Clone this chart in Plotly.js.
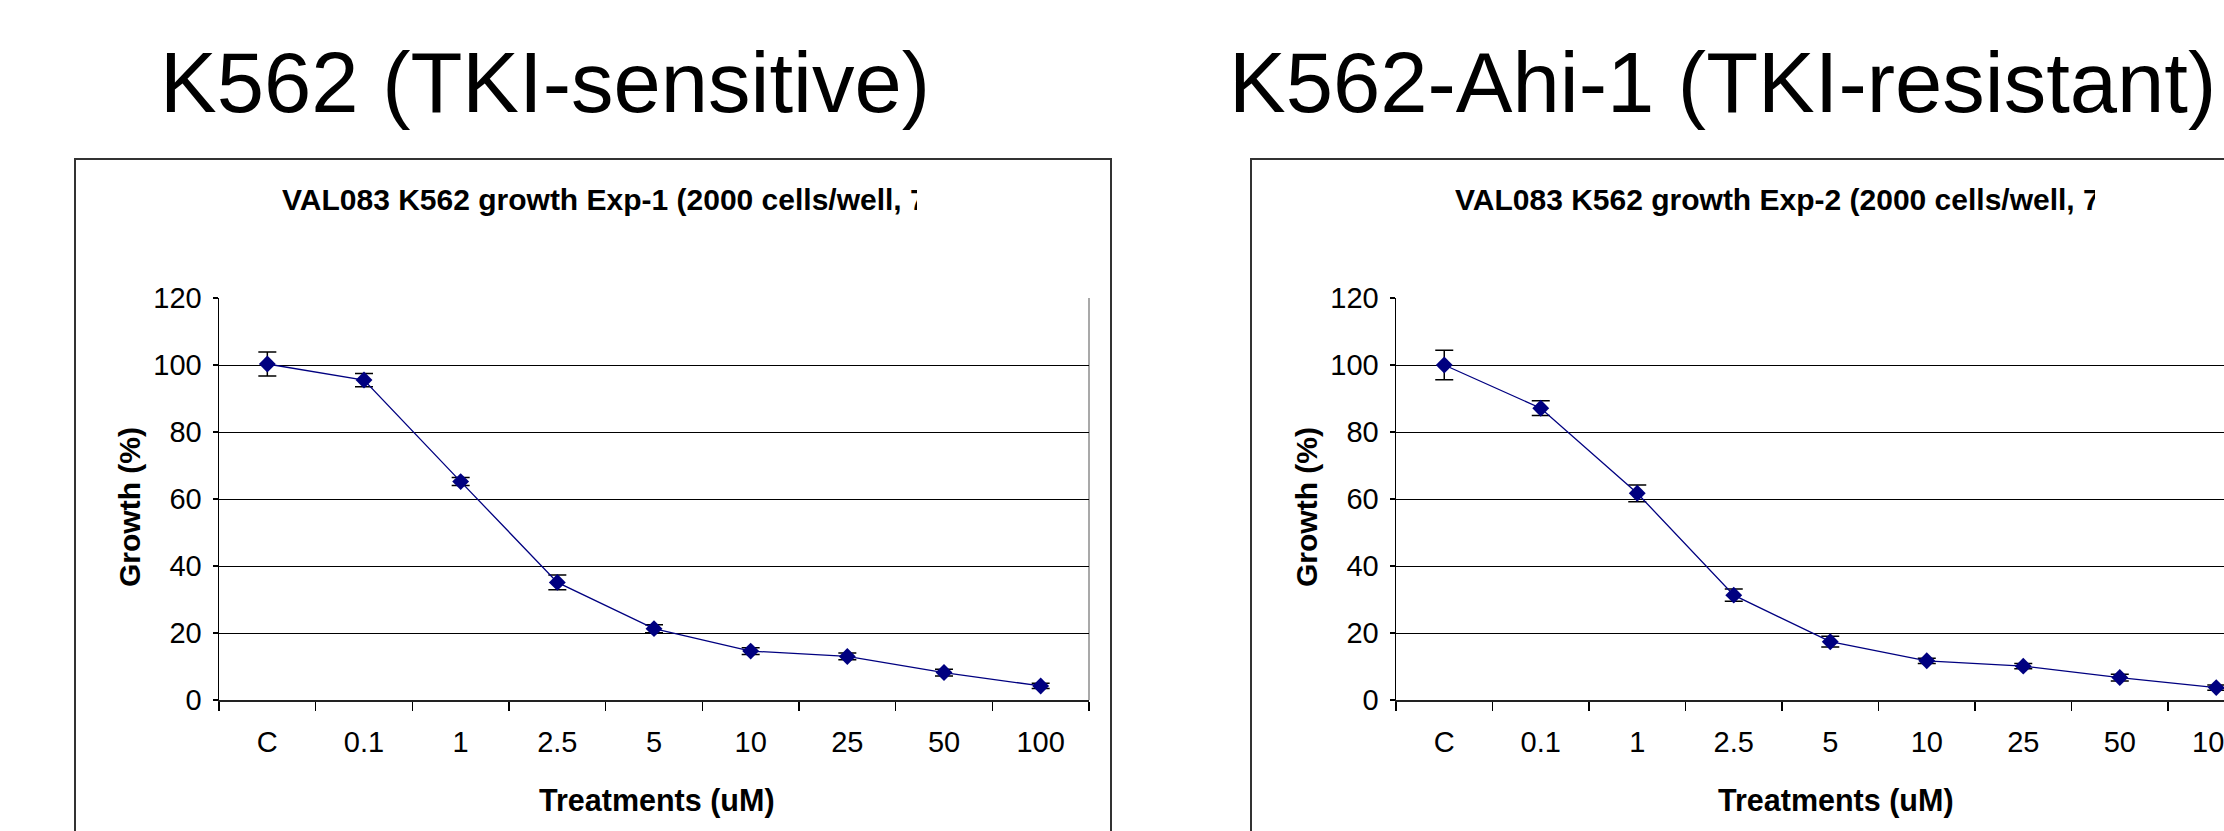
<!DOCTYPE html>
<html>
<head>
<meta charset="utf-8">
<script src="https://cdn.plot.ly/plotly-3.0.1.min.js"></script>
<style>
  html, body { margin: 0; padding: 0; background: #ffffff; }
  #chart { width: 2224px; height: 831px; }
</style>
</head>
<body>
<div id="chart"></div>
<script>
// ---- data ----
var categories = ['C', '0.1', '1', '2.5', '5', '10', '25', '50', '100'];
var exp1Growth = [100.3, 95.5, 65.2, 35.1, 21.3, 14.6, 13.0, 8.2, 4.2];
var exp1Error  = [3.6, 2.0, 1.2, 2.2, 1.2, 1.0, 1.0, 1.0, 0.8];
var exp2Growth = [100.0, 87.1, 61.7, 31.3, 17.4, 11.7, 10.1, 6.7, 3.7];
var exp2Error  = [4.4, 2.2, 2.5, 1.8, 1.6, 0.8, 0.8, 1.0, 0.8];
var yTicks = [0, 20, 40, 60, 80, 100, 120];

var panelTitles = ['K562 (TKI-sensitive)', 'K562-Ahi-1 (TKI-resistant)'];
var chartTitles = ['VAL083 K562 growth Exp-1 (2000 cells/well, 7',
                   'VAL083 K562 growth Exp-2 (2000 cells/well, 7'];
var xTitle = 'Treatments (uM)';
var yTitle = 'Growth (%)';

// ---- layout helpers ----
var W = 2224, H = 831;
function px(x) { return x / W; }
function py(y) { return (H - y) / H; }

var FONT = 'Liberation Sans, Arial, sans-serif';
var NAVY = '#000080';

function makeTrace(y, err, xa, ya) {
  return {
    type: 'scatter', mode: 'lines+markers',
    x: categories, y: y, xaxis: xa, yaxis: ya,
    line: { color: NAVY, width: 1.3 },
    marker: { symbol: 'diamond', size: 13, color: NAVY },
    error_y: { type: 'data', array: err, visible: true, color: '#000000', thickness: 1.5, width: 9 },
    showlegend: false, hoverinfo: 'x+y'
  };
}

function xAxis(domain, range, anchor) {
  return {
    domain: domain, anchor: anchor, type: 'category', range: range,
    tickson: 'boundaries', ticks: 'outside', ticklen: 9, tickwidth: 1.5, tickcolor: '#000',
    showline: true, linecolor: '#222', linewidth: 2, showgrid: false, zeroline: false,
    tickfont: { family: FONT, size: 29, color: '#000' }, ticklabelstandoff: 15,
    fixedrange: true
  };
}
function yAxis(domain, anchor) {
  return {
    domain: domain, anchor: anchor, range: [0, 120],
    tickmode: 'array', tickvals: yTicks, ticktext: yTicks.map(String),
    ticks: 'outside', ticklen: 5, tickwidth: 1.5, tickcolor: '#000',
    showline: true, linecolor: '#000', linewidth: 1.5,
    showgrid: true, gridcolor: '#000', gridwidth: 1, zeroline: false,
    tickfont: { family: FONT, size: 29, color: '#000' }, ticklabelstandoff: 5,
    fixedrange: true
  };
}

var yDom = [py(700), py(298)];
var data = [
  makeTrace(exp1Growth, exp1Error, 'x', 'y'),
  makeTrace(exp2Growth, exp2Error, 'x2', 'y2')
];

var layout = {
  width: W, height: H,
  margin: { l: 0, r: 0, t: 0, b: 0, pad: 0 },
  paper_bgcolor: '#ffffff', plot_bgcolor: '#ffffff',
  showlegend: false,
  xaxis: xAxis([px(219), px(1089)], [-0.5, 8.5], 'y'),
  yaxis: yAxis(yDom, 'x'),
  xaxis2: xAxis([px(1396), 1], [-0.5, 8.08], 'y2'),
  yaxis2: yAxis(yDom, 'x2'),
  shapes: [
    // chart frames
    { type: 'rect', xref: 'paper', yref: 'paper', x0: px(75), x1: px(1111), y0: -0.1, y1: py(159),
      line: { color: '#333', width: 2 }, layer: 'below' },
    { type: 'rect', xref: 'paper', yref: 'paper', x0: px(1251), x1: 1.1, y0: -0.1, y1: py(159),
      line: { color: '#333', width: 2 }, layer: 'below' },
    // plot-area right border (gray)
    { type: 'line', xref: 'x domain', yref: 'y domain', x0: 1, x1: 1, y0: 0, y1: 1,
      line: { color: '#8c8c8c', width: 1.5 }, layer: 'below' }
  ],
  annotations: [
    { text: panelTitles[0], xref: 'paper', yref: 'paper', x: px(545), y: py(82),
      xanchor: 'center', yanchor: 'middle', showarrow: false,
      font: { family: FONT, size: 85, color: '#000' } },
    { text: panelTitles[1], xref: 'paper', yref: 'paper', x: px(1722), y: py(82),
      xanchor: 'center', yanchor: 'middle', showarrow: false,
      font: { family: FONT, size: 85, color: '#000' } },
    { text: '<b>' + chartTitles[0] + '</b>', xref: 'paper', yref: 'paper', x: px(280), y: py(199),
      xanchor: 'left', yanchor: 'middle', showarrow: false, align: 'left', width: 635,
      font: { family: FONT, size: 30, color: '#000' } },
    { text: '<b>' + chartTitles[1] + '</b>', xref: 'paper', yref: 'paper', x: px(1453), y: py(199),
      xanchor: 'left', yanchor: 'middle', showarrow: false, align: 'left', width: 640,
      font: { family: FONT, size: 30, color: '#000' } },
    { text: '<b>' + yTitle + '</b>', xref: 'paper', yref: 'paper', x: px(129), y: py(507),
      xanchor: 'center', yanchor: 'middle', showarrow: false, textangle: -90,
      font: { family: FONT, size: 30, color: '#000' } },
    { text: '<b>' + yTitle + '</b>', xref: 'paper', yref: 'paper', x: px(1306), y: py(507),
      xanchor: 'center', yanchor: 'middle', showarrow: false, textangle: -90,
      font: { family: FONT, size: 30, color: '#000' } },
    { text: '<b>' + xTitle + '</b>', xref: 'paper', yref: 'paper', x: px(657), y: py(800),
      xanchor: 'center', yanchor: 'middle', showarrow: false,
      font: { family: FONT, size: 30.5, color: '#000' } },
    { text: '<b>' + xTitle + '</b>', xref: 'paper', yref: 'paper', x: px(1836), y: py(800),
      xanchor: 'center', yanchor: 'middle', showarrow: false,
      font: { family: FONT, size: 30.5, color: '#000' } }
  ]
};

Plotly.newPlot('chart', data, layout, { staticPlot: true, displayModeBar: false });
</script>
</body>
</html>
